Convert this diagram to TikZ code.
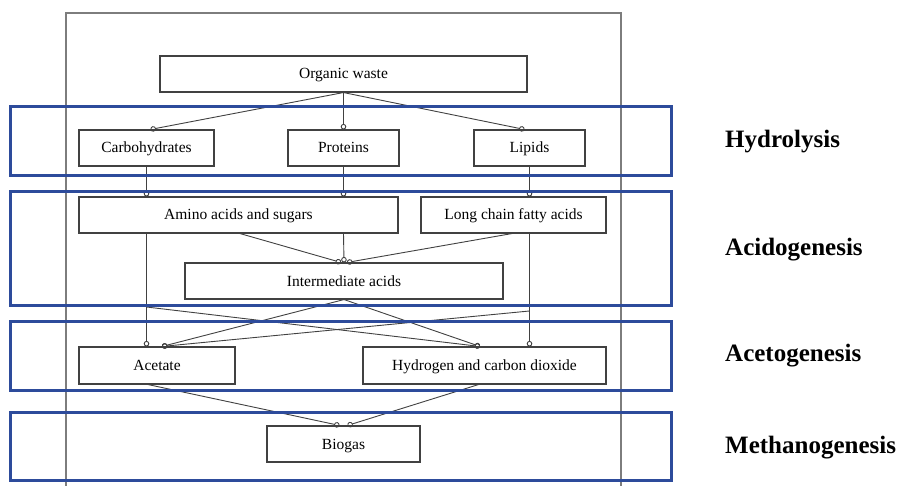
\documentclass[tikz,border=0pt]{standalone}
\usepackage{fontspec}
\setmainfont{Liberation Serif}
\usetikzlibrary{arrows.meta}
\definecolor{bandblue}{RGB}{45,75,155}
\definecolor{framegray}{RGB}{125,125,125}
\definecolor{boxgray}{RGB}{65,65,65}
\tikzset{
  procbox/.style={draw=boxgray, line width=1.1pt, rectangle, inner sep=0pt,
    minimum height=36pt, text height=13pt, text depth=3pt,
    font=\fontsize{15.5}{18}\selectfont},
  flow/.style={draw=boxgray, line width=0.9pt, -{Circle[open, length=5.5pt, width=5.5pt]}},
  band/.style={draw=bandblue, line width=3pt},
  stagelabel/.style={anchor=west, inner sep=0pt, font=\fontsize{25}{29}\selectfont\bfseries}
}
\begin{document}
\begin{tikzpicture}[x=1pt,y=-1pt]
\useasboundingbox (0,0) rectangle (904,486);
% outer frame
\draw[framegray, line width=1.1pt] (66,486) -- (66,13) -- (621,13) -- (621,486);

% boxes
\node[procbox, minimum width=367pt] (ow) at (343.5,74) {Organic waste};
\node[procbox, minimum width=135pt] (carb) at (146.5,148) {Carbohydrates};
\node[procbox, minimum width=111pt] (prot) at (343.5,148) {Proteins};
\node[procbox, minimum width=111pt] (lip) at (529.5,148) {Lipids};
\node[procbox, minimum width=319pt] (amino) at (238.5,215) {Amino acids and sugars};
\node[procbox, minimum width=185pt] (lcfa) at (513.5,215) {Long chain fatty acids};
\node[procbox, minimum width=318pt] (inter) at (344,281) {Intermediate acids};
\node[procbox, minimum width=156pt, minimum height=37pt] (acet) at (157,365.5) {Acetate};
\node[procbox, minimum width=243pt, minimum height=37pt] (hyd) at (484.5,365.5) {Hydrogen and carbon dioxide};
\node[procbox, minimum width=153pt] (bio) at (343.5,444) {Biogas};

% helper coordinates
\coordinate (owb) at (ow.south);
\coordinate (carbin) at ([xshift=4pt]carb.north);
\coordinate (lipin) at ([xshift=-5pt]lip.north);
\coordinate (amL) at (carb.south |- amino.south);
\coordinate (amM) at ([xshift=1.5pt]amino.south);
\coordinate (amR) at (prot.south |- amino.south);
\coordinate (lcL) at ([xshift=-1.5pt]lcfa.south);
\coordinate (lcR) at (lip.south |- lcfa.south);
\coordinate (inL) at ([xshift=-3pt]inter.north);
\coordinate (inR) at ([xshift=3pt]inter.north);
\coordinate (crossL) at (carb.south |- 0,307);
\coordinate (crossR) at (lip.south |- 0,311);
\coordinate (acIn1) at (carb.south |- acet.north);
\coordinate (acIn2) at ([xshift=5pt]acet.north);
\coordinate (hyIn1) at ([xshift=-4.5pt]hyd.north);
\coordinate (hyIn2) at (lip.south |- hyd.north);
\coordinate (acOut) at ([xshift=-9pt]acet.south);
\coordinate (hyOut) at ([xshift=-6pt]hyd.south);
\coordinate (bioL) at ([xshift=-4pt]bio.north);
\coordinate (bioR) at ([xshift=4pt]bio.north);

% connectors
\draw[flow] (owb) -- (carbin);
\draw[flow] (owb) -- (prot.north);
\draw[flow] (owb) -- (lipin);
\draw[flow] (carb.south) -- (carb.south |- amino.north);
\draw[flow] (prot.south) -- (prot.south |- amino.north);
\draw[flow] (lip.south) -- (lip.south |- lcfa.north);
\draw[flow] (amM) -- (inL);
\draw[flow] (amR) -- (inter.north);
\draw[flow] (lcL) -- (inR);
\draw[flow] (amL) -- (acIn1);
\draw[flow] (lcR) -- (hyIn2);
\draw[flow] (crossL) -- (hyIn1);
\draw[flow] (crossR) -- (acIn2);
\draw[flow] (inter.south) -- (acIn2);
\draw[flow] (inter.south) -- (hyIn1);
\draw[flow] (acOut) -- (bioL);
\draw[flow] (hyOut) -- (bioR);

% stage bands
\draw[band] (10,107) rectangle (671,176);
\draw[band] (10,192) rectangle (671,305);
\draw[band] (10,321) rectangle (671,390);
\draw[band] (10,412) rectangle (671,480);

% stage labels
\node[stagelabel] (h) at (725,142) {Hydrolysis};
\node[stagelabel] (a) at (725,250) {Acidogenesis};
\node[stagelabel] (g) at (725,356) {Acetogenesis};
\node[stagelabel] (m) at (725,448) {Methanogenesis};
\end{tikzpicture}
\end{document}
